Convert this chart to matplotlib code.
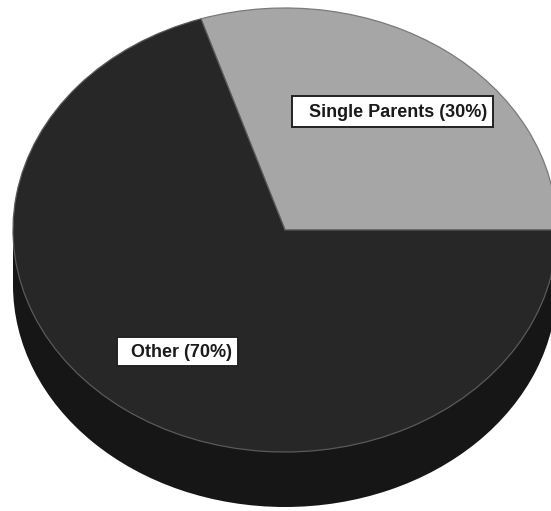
import matplotlib
matplotlib.use("Agg")
import matplotlib.pyplot as plt
from matplotlib.patches import Rectangle

# Data
categories = ["Single Parents", "Other"]
shares = [30, 70]
labels = ["Single Parents (30%)", "Other (70%)"]

# Styling / geometry (pixels in a 551x511 canvas)
W, H = 551, 511
cx, cy = 285, 230          # centre of top face (px)
rx, ry = 272, 222          # radii of top face (px)
depth_px = 55
top_colors = ["#a6a6a6", "#272727"]
side_color = "#161616"

fig = plt.figure(figsize=(W / 100, H / 100), dpi=100)
fig.patch.set_facecolor("white")
ax = fig.add_axes([0, 0, 1, 1])

depth = depth_px / ry

# side (cylinder wall) drawn as a bottom pie plus a band
ax.pie([sum(shares)], colors=[side_color], startangle=0, center=(0, -depth),
       radius=1, wedgeprops=dict(linewidth=0), frame=True)
ax.add_patch(Rectangle((-1, -depth), 2, depth, facecolor=side_color,
                       edgecolor="none", zorder=1))

# top face
wedges, _ = ax.pie(shares, colors=top_colors, startangle=0, counterclock=True,
                   radius=1, frame=True,
                   wedgeprops=dict(linewidth=0.9, edgecolor="#5a5a5a"))
for w in wedges:
    w.set_zorder(3)
wedges[0].set_edgecolor("#7a7a7a")

ax.set_aspect("auto")
ax.set_xlim(-cx / rx, (W - cx) / rx)
ax.set_ylim((cy - H) / ry, cy / ry)
ax.axis("off")

# label overlay in pixel coordinates
ax2 = fig.add_axes([0, 0, 1, 1])
ax2.set_xlim(0, W)
ax2.set_ylim(H, 0)
ax2.axis("off")
ax2.patch.set_alpha(0)

boxes = [(292, 96, 201, 31), (117, 337, 121, 29)]
for (bx, by, bw, bh), lab in zip(boxes, labels):
    ax2.add_patch(Rectangle((bx, by), bw, bh, facecolor="white",
                            edgecolor="#222222", linewidth=1.4, zorder=5))
    ax2.text(bx + bw - 6, by + bh / 2 + 1, lab, ha="right", va="center",
             fontsize=13, fontweight="bold", family="Liberation Sans",
             color="#1a1a1a", zorder=6)

fig.savefig("out.png", dpi=100, facecolor="white")
